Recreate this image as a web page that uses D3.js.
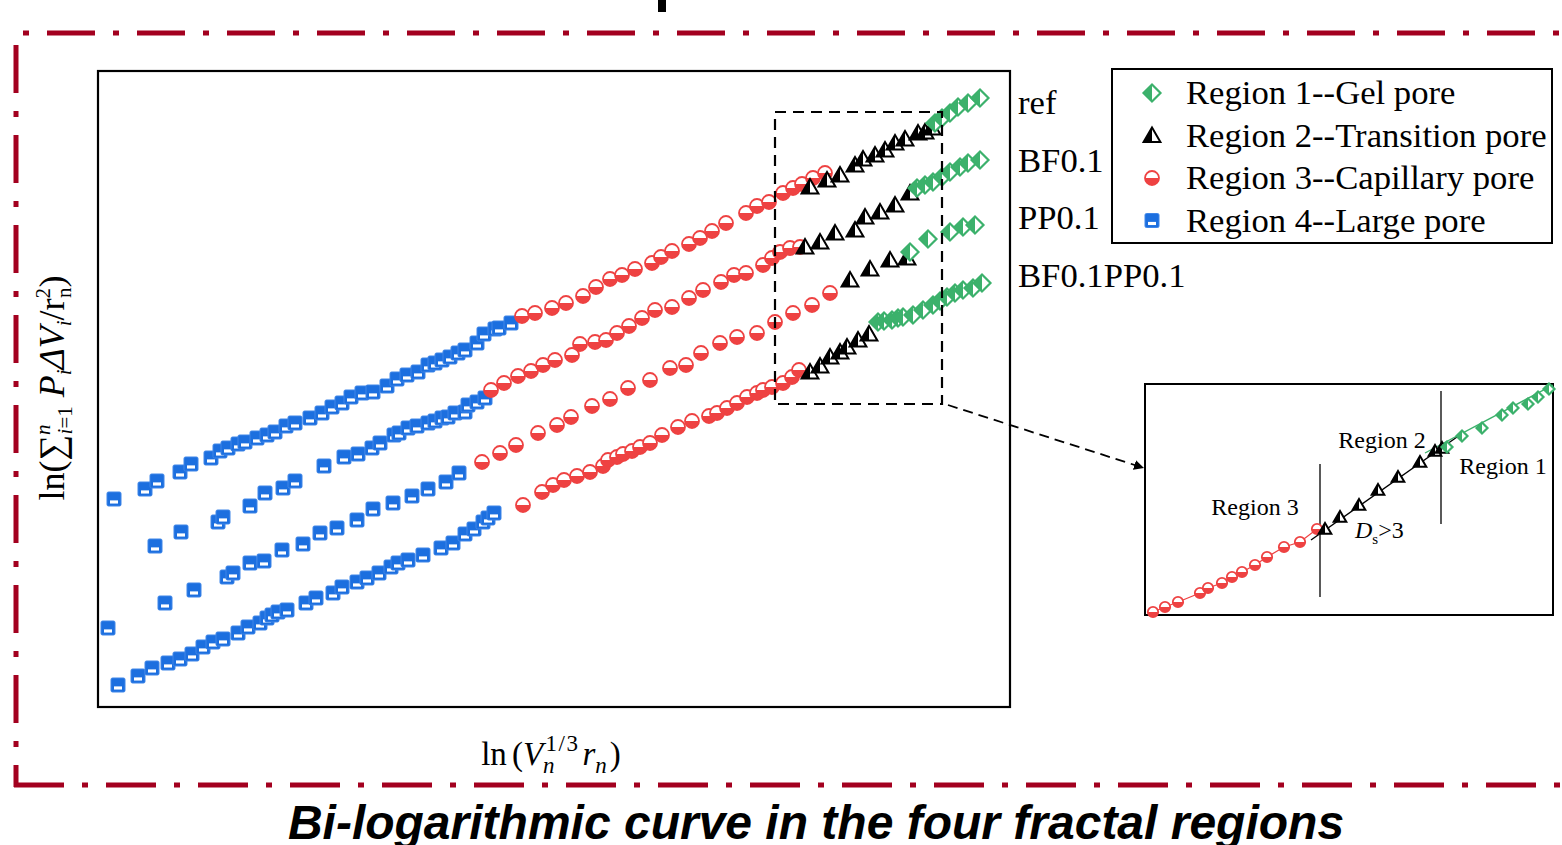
<!DOCTYPE html>
<html>
<head>
<meta charset="utf-8">
<script src="https://cdn.jsdelivr.net/npm/d3@7"></script>
<style>
body{margin:0;background:#fff}
svg{display:block}
</style>
</head>
<body>
<svg id="chart" width="1562" height="845"></svg>
<script>
// data (ln units)
const refLarge = [[-3.34,-1.92],[-3.03,-1.82],[-2.91,-1.74],[-2.68,-1.65],[-2.57,-1.57],[-2.37,-1.51],[-2.28,-1.44],[-2.20,-1.41],[-2.10,-1.37],[-2.03,-1.35],[-1.91,-1.31],[-1.81,-1.28],[-1.73,-1.25],[-1.62,-1.19],[-1.53,-1.16],[-1.38,-1.11],[-1.26,-1.06],[-1.16,-1.00],[-1.06,-0.96],[-0.97,-0.90],[-0.86,-0.86],[-0.75,-0.85],[-0.61,-0.79],[-0.51,-0.72],[-0.41,-0.68],[-0.30,-0.65],[-0.20,-0.58],[-0.13,-0.56],[-0.06,-0.53],[0.02,-0.50],[0.10,-0.46],[0.17,-0.43],[0.29,-0.36],[0.36,-0.27],[0.47,-0.22],[0.51,-0.21],[0.63,-0.16]];
const refCapillary = [[0.74,-0.09],[0.87,-0.06],[1.04,-0.01],[1.18,0.04],[1.35,0.11],[1.48,0.20],[1.62,0.28],[1.74,0.32],[1.87,0.38],[2.04,0.44],[2.13,0.50],[2.24,0.56],[2.41,0.63],[2.52,0.69],[2.64,0.76],[2.78,0.84],[2.98,0.94],[3.09,1.01],[3.21,1.05],[3.35,1.14],[3.45,1.19],[3.54,1.23],[3.65,1.29],[3.77,1.34]];
const refTransition = [[3.62,1.20],[3.79,1.27],[3.92,1.32],[4.07,1.42],[4.15,1.48],[4.27,1.52],[4.37,1.57],[4.47,1.64],[4.57,1.68],[4.70,1.74],[4.77,1.75],[4.84,1.79]];
const refGel = [[4.87,1.84],[4.94,1.89],[5.02,1.94],[5.10,2.00],[5.20,2.04],[5.32,2.09]];

const bfLarge = [[-2.93,-2.39],[-2.67,-2.25],[-2.30,-2.15],[-2.25,-2.10],[-1.98,-1.99],[-1.83,-1.86],[-1.65,-1.81],[-1.53,-1.74],[-1.24,-1.59],[-1.04,-1.50],[-0.90,-1.47],[-0.76,-1.41],[-0.68,-1.36],[-0.54,-1.28],[-0.49,-1.26],[-0.40,-1.21],[-0.31,-1.19],[-0.20,-1.16],[-0.13,-1.14],[-0.06,-1.11],[0.00,-1.10],[0.07,-1.06],[0.17,-1.05],[0.20,-0.98],[0.29,-0.95],[0.37,-0.91]];
const bfCapillary = [[0.43,-0.83],[0.56,-0.76],[0.70,-0.69],[0.83,-0.64],[0.95,-0.58],[1.07,-0.53],[1.24,-0.48],[1.32,-0.37],[1.47,-0.35],[1.58,-0.33],[1.69,-0.26],[1.81,-0.19],[1.94,-0.11],[2.07,-0.03],[2.24,0.00],[2.41,0.09],[2.55,0.17],[2.73,0.25],[2.86,0.32],[2.98,0.34],[3.15,0.42],[3.24,0.49],[3.32,0.55],[3.42,0.59],[3.52,0.60]];
const bfTransition = [[3.57,0.60],[3.72,0.65],[3.87,0.74],[4.07,0.77],[4.17,0.90],[4.32,0.95],[4.47,1.02],[4.62,1.14]];
const bfGel = [[4.69,1.19],[4.77,1.22],[4.85,1.25],[4.94,1.30],[5.02,1.35],[5.12,1.40],[5.20,1.44],[5.32,1.47]];

const ppLarge = [[-3.40,-3.21],[-2.83,-2.96],[-2.54,-2.83],[-2.21,-2.70],[-2.15,-2.66],[-1.98,-2.56],[-1.84,-2.54],[-1.66,-2.43],[-1.45,-2.37],[-1.28,-2.26],[-1.11,-2.21],[-0.91,-2.13],[-0.75,-2.02],[-0.55,-1.96],[-0.36,-1.89],[-0.20,-1.82],[-0.02,-1.75],[0.11,-1.66]];
const ppCapillary = [[0.34,-1.55],[0.52,-1.46],[0.68,-1.38],[0.90,-1.26],[1.09,-1.18],[1.23,-1.10],[1.44,-0.99],[1.62,-0.92],[1.80,-0.81],[2.02,-0.73],[2.22,-0.61],[2.38,-0.58],[2.53,-0.46],[2.72,-0.36],[2.89,-0.30],[3.09,-0.26],[3.27,-0.15],[3.45,-0.06],[3.64,0.02],[3.82,0.14]];
const ppTransition = [[4.02,0.27],[4.22,0.38],[4.42,0.47],[4.59,0.49]];
const ppGel = [[4.62,0.55],[4.80,0.68],[5.02,0.75],[5.15,0.80],[5.27,0.82]];

const bothLarge = [[-3.30,-3.78],[-3.10,-3.69],[-2.96,-3.61],[-2.80,-3.56],[-2.68,-3.52],[-2.56,-3.47],[-2.45,-3.40],[-2.35,-3.35],[-2.25,-3.32],[-2.10,-3.26],[-2.00,-3.20],[-1.88,-3.16],[-1.81,-3.11],[-1.76,-3.08],[-1.70,-3.05],[-1.61,-3.03],[-1.42,-2.96],[-1.32,-2.91],[-1.15,-2.86],[-1.06,-2.80],[-0.91,-2.75],[-0.81,-2.71],[-0.69,-2.66],[-0.57,-2.60],[-0.50,-2.56],[-0.40,-2.53],[-0.25,-2.48],[-0.07,-2.41],[0.05,-2.36],[0.17,-2.27],[0.26,-2.22],[0.35,-2.15],[0.40,-2.11],[0.46,-2.06]];
const bothCapillary = [[0.75,-1.98],[0.94,-1.85],[1.05,-1.78],[1.16,-1.73],[1.29,-1.69],[1.42,-1.65],[1.55,-1.59],[1.60,-1.53],[1.69,-1.50],[1.75,-1.47],[1.84,-1.44],[1.92,-1.40],[2.02,-1.36],[2.14,-1.28],[2.30,-1.20],[2.44,-1.14],[2.61,-1.09],[2.69,-1.06],[2.79,-1.01],[2.89,-0.96],[2.99,-0.90],[3.09,-0.86],[3.15,-0.83],[3.24,-0.80],[3.35,-0.76],[3.44,-0.70],[3.51,-0.63]];
const bothTransition = [[3.62,-0.65],[3.72,-0.59],[3.82,-0.50],[3.92,-0.45],[3.99,-0.40],[4.10,-0.33],[4.21,-0.27]];
const bothGel = [[4.30,-0.15],[4.36,-0.14],[4.44,-0.13],[4.50,-0.11],[4.55,-0.10],[4.65,-0.08],[4.75,-0.03],[4.85,0.02],[4.92,0.06],[4.99,0.10],[5.07,0.14],[5.15,0.17],[5.25,0.19],[5.34,0.24]];

const seriesNames = ["ref","BF0.1","PP0.1","BF0.1PP0.1"];
const seriesLabelY = [2.04, 1.46, 0.89, 0.31];
const regionNames = ["Region 1--Gel pore","Region 2--Transition pore","Region 3--Capillary pore","Region 4--Large pore"];

// inset (zoom of the dashed window), its own units
const insetCapillary = [[0.08,0.03],[0.20,0.08],[0.33,0.13],[0.55,0.22],[0.63,0.27],[0.77,0.32],[0.87,0.38],[0.97,0.43],[1.10,0.50],[1.22,0.58],[1.39,0.68],[1.55,0.73],[1.72,0.86]];
const insetTransition = [[1.80,0.86],[1.95,0.98],[2.14,1.10],[2.33,1.25],[2.53,1.38],[2.75,1.53],[2.90,1.64],[2.97,1.67]];
const insetGel = [[3.02,1.68],[3.17,1.79],[3.37,1.87],[3.57,2.00],[3.68,2.07],[3.83,2.11],[3.93,2.18],[4.04,2.26]];
const insetFitTransition = [[1.66,0.75],[3.12,1.78]];
const insetFitGel = [[2.80,1.62],[4.08,2.30]];
const insetBounds = [1.75, 2.96];

const GREEN = "#3cb16c", RED = "#ee4242", BLUE = "#1c6fdf", DARK = "#000";
const BORDER = "#a3001f";
const SERIF = "'Liberation Serif','Times New Roman',serif";

const svg = d3.select("#chart");

const x = d3.scaleLinear().domain([-3.5, 5.62]).range([98, 1010]);
const y = d3.scaleLinear().domain([-4, 2.36]).range([707, 71]);

// the source figure's serif text is a little wider than Liberation Serif
function widen(sel, k){
    sel.each(function(){
        var L = this.getComputedTextLength()
        d3.select(this).attr("textLength", L*k).attr("lengthAdjust","spacingAndGlyphs")
    })
}

//#region MARKERS
function marker(g, type, s){
    if(type == "square"){
        g.append("rect").attr("x",-s).attr("y",-s).attr("width",2*s).attr("height",2*s).attr("rx",1.5)
            .style("fill",BLUE).style("stroke","#3f86e8").style("stroke-width",1)
        g.append("rect").attr("x",-s+3).attr("y",s*0.2).attr("width",2*s-6).attr("height",s*0.45)
            .style("fill","#fff")
    } else if(type == "circle"){
        g.append("circle").attr("r",s).style("fill","#fff").style("stroke",RED).style("stroke-width",1.8)
        g.append("path").attr("d",`M${-s},0A${s},${s} 0 0 0 ${s},0Z`).style("fill",RED)
    } else if(type == "triangle"){
        var w = s*1.05, h = s*0.8
        g.append("path").attr("d",`M0,${-s}L${w},${h}L${-w},${h}Z`)
            .style("fill","#fff").style("stroke",DARK).style("stroke-width",2).style("stroke-linejoin","miter")
        g.append("path").attr("d",`M0,${-s}L0,${h}L${-w},${h}Z`).style("fill",DARK)
    } else {
        g.append("path").attr("d",`M0,${-s}L${s},0L0,${s}L${-s},0Z`)
            .style("fill","#fff").style("stroke",GREEN).style("stroke-width",2.2)
        g.append("path").attr("d",`M0,${-s}L0,${s}L${-s},0Z`).style("fill",GREEN)
    }
}

function plotPoints(data, type, s, sx, sy){
    var layer = svg.append("g")
    data.forEach(function(d){
        var g = layer.append("g").attr("transform",`translate(${sx(d[0])},${sy(d[1])})`)
        marker(g, type, s)
    })
}

//#region BORDER
svg.append("rect").attr("x",658).attr("y",0).attr("width",8).attr("height",12).style("fill","#000")

svg.append("line").attr("x1",23).attr("y1",33).attr("x2",1562).attr("y2",33)
    .style("stroke",BORDER).style("stroke-width",5).style("stroke-dasharray","6,18,48,18")
svg.append("line").attr("x1",16).attr("y1",45).attr("x2",16).attr("y2",787)
    .style("stroke",BORDER).style("stroke-width",5).style("stroke-dasharray","48,18,6,18")
svg.append("line").attr("x1",14).attr("y1",785).attr("x2",1562).attr("y2",785)
    .style("stroke",BORDER).style("stroke-width",5).style("stroke-dasharray","50,18,6,18")

//#region MAIN PLOT
svg.append("rect").attr("x",x.range()[0]).attr("y",y.range()[1])
    .attr("width",x.range()[1]-x.range()[0]).attr("height",y.range()[0]-y.range()[1])
    .style("fill","none").style("stroke","#000").style("stroke-width",2.2)

var large = [refLarge, bfLarge, ppLarge, bothLarge]
var capillary = [refCapillary, bfCapillary, ppCapillary, bothCapillary]
var transition = [refTransition, bfTransition, ppTransition, bothTransition]
var gel = [refGel, bfGel, ppGel, bothGel]
for (var i = 0; i < 4; i++) {
    plotPoints(large[i], "square", 7, x, y)
    plotPoints(capillary[i], "circle", 7, x, y)
    plotPoints(transition[i], "triangle", 8, x, y)
    plotPoints(gel[i], "diamond", 8.5, x, y)
}

// zoom window + arrow
var win = {x0:3.27, x1:4.94, y0:-0.97, y1:1.95}
svg.append("rect").attr("x",x(win.x0)).attr("y",y(win.y1))
    .attr("width",x(win.x1)-x(win.x0)).attr("height",y(win.y0)-y(win.y1))
    .style("fill","none").style("stroke","#000").style("stroke-width",2.2).style("stroke-dasharray","11,7")

svg.append("defs").append("marker").attr("id","arrowHead").attr("viewBox","0 0 10 10")
    .attr("refX",10).attr("refY",5).attr("markerWidth",10).attr("markerHeight",10)
    .attr("markerUnits","userSpaceOnUse").attr("orient","auto")
    .append("path").attr("d","M0,0L10,5L0,10Z").style("fill","#000")

svg.append("line").attr("x1",x(win.x1)+6).attr("y1",y(win.y0)+1).attr("x2",1144).attr("y2",468)
    .style("stroke","#000").style("stroke-width",1.8).style("stroke-dasharray","10,6")
    .attr("marker-end","url(#arrowHead)")

// series labels
svg.append("g").selectAll("text").data(seriesNames).join("text")
    .attr("x",1018).attr("y",(d,i)=>y(seriesLabelY[i])+11)
    .style("font-family",SERIF).style("font-size","33px")
    .text(d=>d)
    .call(widen, 1.05)

// axis titles
var xt = svg.append("text").attr("x",551).attr("y",765).attr("text-anchor","middle")
    .style("font-family",SERIF).style("font-size","33px")
xt.append("tspan").text("ln")
xt.append("tspan").attr("dx",5).text("(")
xt.append("tspan").style("font-style","italic").text("V")
xt.append("tspan").style("font-style","italic").style("font-size","23px").attr("dy",8).text("n")
xt.append("tspan").style("font-size","23px").attr("dx",-9).attr("dy",-22).attr("letter-spacing",1.5).text("1/3")
xt.append("tspan").style("font-style","italic").attr("dx",3).attr("dy",14).text("r")
xt.append("tspan").style("font-style","italic").style("font-size","23px").attr("dy",8).text("n")
xt.append("tspan").attr("dx",3).attr("dy",-8).text(")")

var yt = svg.append("text").attr("transform","translate(64,388) rotate(-90)").attr("text-anchor","middle")
    .style("font-family",SERIF).style("font-size","36px")
yt.append("tspan").text("ln(∑")
yt.append("tspan").style("font-style","italic").style("font-size","21px").attr("dy",-14).text("n")
yt.append("tspan").style("font-style","italic").style("font-size","21px").attr("dx",-10).attr("dy",22).text("i")
yt.append("tspan").style("font-size","21px").text("=1")
yt.append("tspan").style("font-style","italic").attr("dy",-8).text(" P")
yt.append("tspan").style("font-style","italic").style("font-size","21px").attr("dy",7).text("i")
yt.append("tspan").style("font-style","italic").attr("dy",-7).text("ΔV")
yt.append("tspan").style("font-style","italic").style("font-size","21px").attr("dy",7).text("i")
yt.append("tspan").attr("dy",-7).text("/r")
yt.append("tspan").style("font-size","21px").attr("dy",-14).text("2")
yt.append("tspan").style("font-size","21px").attr("dx",-10).attr("dy",21).text("n")
yt.append("tspan").attr("dy",-7).text(")")

//#region LEGEND
var legend = svg.append("g").attr("transform","translate(1112,69)")
legend.append("rect").attr("width",440).attr("height",174)
    .style("fill","#fff").style("stroke","#000").style("stroke-width",2)
var legendTypes = ["diamond","triangle","circle","square"]
var legendSizes = [8.5, 8, 7, 7]
regionNames.forEach(function(name,i){
    var row = legend.append("g").attr("transform",`translate(0,${24+i*42.5})`)
    marker(row.append("g").attr("transform","translate(40,0)"), legendTypes[i], legendSizes[i])
    row.append("text").attr("x",74).attr("y",11)
        .style("font-family",SERIF).style("font-size","33px")
        .text(name)
        .call(widen, 1.05)
})

//#region INSET
var ix = d3.scaleLinear().domain([0, 4.08]).range([1145, 1553])
var iy = d3.scaleLinear().domain([0, 2.31]).range([615, 384])
svg.append("rect").attr("x",1145).attr("y",384).attr("width",408).attr("height",231)
    .style("fill","#fff").style("stroke","#000").style("stroke-width",2)

var line = d3.line().x(d=>ix(d[0])).y(d=>iy(d[1]))
svg.append("path").attr("d",line(insetCapillary)).style("fill","none").style("stroke",RED).style("stroke-width",1.2)
svg.append("path").attr("d",line(insetFitTransition)).style("fill","none").style("stroke","#000").style("stroke-width",1.4)
svg.append("path").attr("d",line(insetFitGel)).style("fill","none").style("stroke",GREEN).style("stroke-width",1.4)

svg.append("line").attr("x1",ix(insetBounds[0])).attr("x2",ix(insetBounds[0])).attr("y1",iy(1.51)).attr("y2",iy(0.18))
    .style("stroke","#000").style("stroke-width",1.3)
svg.append("line").attr("x1",ix(insetBounds[1])).attr("x2",ix(insetBounds[1])).attr("y1",iy(2.24)).attr("y2",iy(0.91))
    .style("stroke","#000").style("stroke-width",1.3)

plotPoints(insetCapillary, "circle", 5.2, ix, iy)
plotPoints(insetTransition, "triangle", 6, ix, iy)
plotPoints(insetGel, "diamond", 5.5, ix, iy)

svg.append("text").attr("x",1255).attr("y",515).attr("text-anchor","middle").style("font-family",SERIF).style("font-size","24px").text("Region 3")
svg.append("text").attr("x",1382).attr("y",448).attr("text-anchor","middle").style("font-family",SERIF).style("font-size","24px").text("Region 2")
svg.append("text").attr("x",1503).attr("y",474).attr("text-anchor","middle").style("font-family",SERIF).style("font-size","24px").text("Region 1")
var ds = svg.append("text").attr("x",1355).attr("y",538).style("font-family",SERIF).style("font-size","24px")
ds.append("tspan").style("font-style","italic").text("D")
ds.append("tspan").style("font-size","15px").attr("dy",6).text("s")
ds.append("tspan").attr("dy",-6).text(">3")

//#region TITLE
svg.append("text").attr("x",816).attr("y",839).attr("text-anchor","middle")
    .style("font-family","'Liberation Sans',Arial,sans-serif").style("font-size","48px")
    .style("font-weight","bold").style("font-style","italic")
    .text("Bi-logarithmic curve in the four fractal regions")
</script>
</body>
</html>
